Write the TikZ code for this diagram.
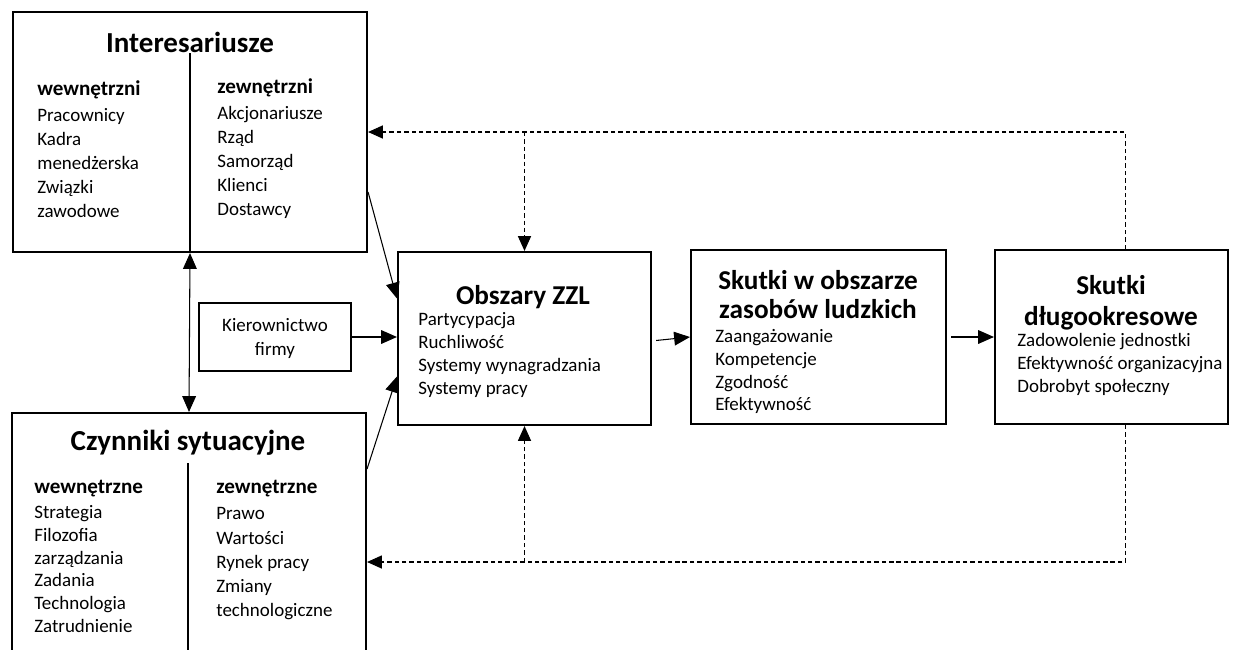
\documentclass[tikz,border=0pt]{standalone}
\usepackage{fontspec}
\setmainfont{Carlito}
\usetikzlibrary{arrows.meta,calc,fit}

\begin{document}
\begin{tikzpicture}[x=0.02cm,y=-0.02cm,
  box/.style={draw, line width=1.2pt, inner sep=0pt},
  item/.style={anchor=west, inner sep=0pt, font=\fontsize{10.8}{13}\selectfont, text height=7.5pt, text depth=2pt},
  head/.style={item, font=\fontsize{12}{14}\selectfont\bfseries},
  ctext/.style={item, anchor=center},
  title/.style={anchor=center, inner sep=0pt, font=\fontsize{16.5}{20}\selectfont\bfseries, text height=11pt, text depth=3pt},
  rtitle/.style={title, font=\fontsize{15.5}{19}\selectfont\bfseries},
  divider/.style={line width=0.9pt},
  link/.style={line width=0.6pt, -{Triangle[length=9pt,width=7.8pt]}},
  biglink/.style={line width=0.6pt, {Triangle[length=9pt,width=7.8pt]}-{Triangle[length=9pt,width=7.8pt]}},
  feedback/.style={line width=0.6pt, dash pattern=on 2.5pt off 1.7pt, -{Triangle[length=8.5pt,width=7.5pt]}}
]
\clip (0,0) rectangle (1240,649);

% Interesariusze
\node[box, fit={(13,12) (367,252)}] (int) {};
\node[title] (intt) at (190,45) {Interesariusze};
\draw[divider] (190,53) -- (int.south -| 190,0);
\node[head] (iwh) at (37,91) {wewnętrzni};
\foreach \t [count=\i] in {Pracownicy,Kadra,menedżerska,Związki,zawodowe}
  \node[item] (iw\i) at (37,{117+24*(\i-1)}) {\t};
\node[head] (izh) at (217,89) {zewnętrzni};
\foreach \t [count=\i] in {Akcjonariusze,Rząd,Samorząd,Klienci,Dostawcy}
  \node[item] (iz\i) at (217,{115+24*(\i-1)}) {\t};

% Czynniki sytuacyjne
\node[box, fit={(12,413) (366,711)}] (czy) {};
\node[title] (czyt) at (188,443) {Czynniki sytuacyjne};
\draw[divider] (188,463) -- (188,660);
\node[head] (cwh) at (34,489) {wewnętrzne};
\foreach \t [count=\i] in {Strategia,Filozofia,zarządzania,Zadania,Technologia,Zatrudnienie}
  \node[item] (cw\i) at (34,{514+22.7*(\i-1)}) {\t};
\node[head] (czh) at (216,489) {zewnętrzne};
\foreach \t [count=\i] in {Prawo,Wartości,Rynek pracy,Zmiany,technologiczne}
  \node[item] (cz\i) at (216,{515+24.2*(\i-1)}) {\t};

% Kierownictwo firmy
\node[box, fit={(199,303) (351,371)}] (kier) {};
\node[ctext] (kier1) at (275,327) {Kierownictwo};
\node[ctext] (kier2) at (275,351) {firmy};

% Obszary ZZL
\node[box, fit={(398,252) (651,425)}] (obs) {};
\node[rtitle] (obst) at (523,297) {Obszary ZZL};
\foreach \t [count=\i] in {Partycypacja,Ruchliwość,Systemy wynagradzania,Systemy pracy}
  \node[item] (obs\i) at (418,{321+23*(\i-1)}) {\t};

% Skutki w obszarze zasobow ludzkich
\node[box, fit={(691,250) (946,424)}] (szl) {};
\node[rtitle] (szlt1) at (818,282) {Skutki w obszarze};
\node[rtitle] (szlt2) at (818,311) {zasobów ludzkich};
\foreach \t [count=\i] in {Zaangażowanie,Kompetencje,Zgodność,Efektywność}
  \node[item] (szl\i) at (715,{338+22.7*(\i-1)}) {\t};

% Skutki dlugookresowe
\node[box, fit={(995,250) (1228,424)}] (sdl) {};
\node[rtitle] (sdlt1) at (1111,287) {Skutki};
\node[rtitle] (sdlt2) at (1111,318) {długookresowe};
\foreach \t [count=\i] in {Zadowolenie jednostki,Efektywność organizacyjna,Dobrobyt społeczny}
  \node[item] (sdl\i) at (1017,{342+23*(\i-1)}) {\t};

% Main connectors
\draw[biglink] (int.south) -- (czy.north);
\draw[link] ($(int.east)+(0,60)$) -- ($(obs.west)+(0,-40)$);
\draw[link] (kier.east) -- (obs.west |- kier.east);
\draw[link] ($(czy.north east)+(0,57)$) -- ($(obs.west)+(0,38)$);
\draw[link] ($(obs.east)+(4,2)$) -- (szl.west);
\draw[link] ($(szl.east)+(4,0)$) -- (sdl.west);

% Feedback loops
\draw[feedback] ($(sdl.north)+(14,0)$) |- (int.east);
\draw[feedback] (obs.north |- int.east) -- (obs.north);
\draw[feedback] ($(sdl.south)+(14,0)$) |- (czy.east);
\draw[feedback] (obs.south |- czy.east) -- (obs.south);
\end{tikzpicture}
\end{document}
